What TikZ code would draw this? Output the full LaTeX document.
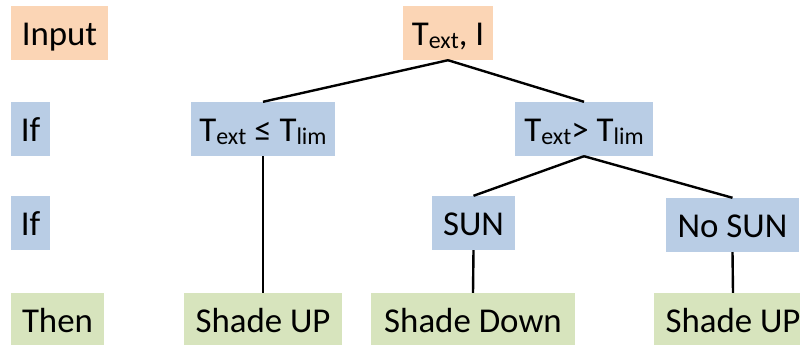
\documentclass[tikz,border=0pt]{standalone}
\usepackage{fontspec}
\setmainfont{Carlito}
\definecolor{peach}{HTML}{FBD5B5}
\definecolor{lblue}{HTML}{B9CDE5}
\definecolor{lgreen}{HTML}{D7E4BD}
\newcommand{\sbs}[1]{\raisebox{-3bp}{\fontsize{24}{24}\selectfont #1}}
\begin{document}
\begin{tikzpicture}[x=1bp,y=-1bp,
  box/.style={inner sep=0pt, minimum height=54bp, text height=24bp, text depth=0bp,
    font=\fontsize{35}{40}\selectfont},
  inbox/.style={box, fill=peach},
  ifbox/.style={box, fill=lblue},
  thenbox/.style={box, fill=lgreen},
  link/.style={line width=2.4bp}]
\useasboundingbox (0,0) rectangle (800,344);
% row labels
\node[inbox, minimum width=97bp] (lin) at (59.5,33) {Input};
\node[ifbox, minimum width=39bp] (lif1) at (30.5,129) {If};
\node[ifbox, minimum width=39bp] (lif2) at (30.5,223) {If};
\node[thenbox, minimum width=93bp] (lthen) at (57.5,320) {Then};
% tree
\node[inbox, minimum width=90bp] (ti) at (448,33) {T\sbs{ext}, I};
\node[ifbox, minimum width=144bp] (tle) at (263,129) {T\sbs{ext} ≤ T\sbs{lim}};
\node[ifbox, minimum width=138bp] (tgt) at (584,129) {T\sbs{ext}> T\sbs{lim}};
\node[ifbox, minimum width=83bp] (sun) at (473.5,223) {SUN};
\node[ifbox, minimum width=133bp] (nosun) at (732.5,225) {No SUN};
\node[thenbox, minimum width=158bp] (up1) at (263,320) {Shade UP};
\node[thenbox, minimum width=204bp] (down) at (473,320) {Shade Down};
\node[thenbox, minimum width=158bp] (up2) at (733,320) {Shade UP};
% connectors
\draw[link] (ti.south) -- (tle.north);
\draw[link] (ti.south) -- (tgt.north);
\draw[link] (tle.south) -- (up1.north);
\draw[link] (tgt.south) -- (sun.north);
\draw[link] (tgt.south) -- (nosun.north);
\draw[link] (sun.south) -- (down.north);
\draw[link] (nosun.south) -- (up2.north);
\end{tikzpicture}
\end{document}
